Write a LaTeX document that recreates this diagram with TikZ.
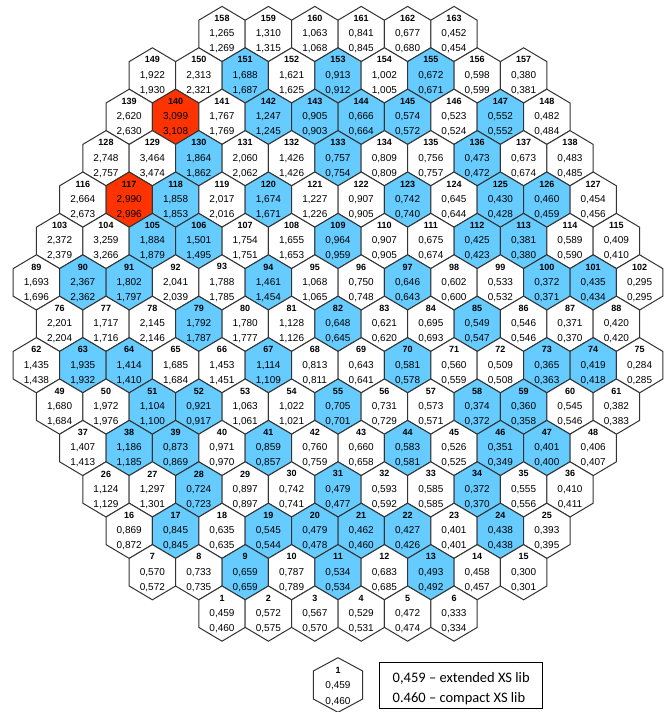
\documentclass[tikz,border=0pt]{standalone}
\usepackage{fontspec}
\setmainfont{Liberation Sans}
\newfontfamily\legfont{Carlito}
\usepackage{xcolor}
\usetikzlibrary{backgrounds}

\definecolor{hb}{RGB}{102,204,255}
\definecolor{hr}{RGB}{255,51,0}
\colorlet{hw}{white}

\tikzset{
  hexedge/.style={draw=black!80, line width=1pt, line join=miter},
  hexid/.style={font=\fontsize{9}{9}\selectfont\bfseries, inner sep=0pt},
  hexval/.style={font=\fontsize{10}{10}\selectfont, inner sep=0pt},
  legtxt/.style={font=\legfont\fontsize{14.5}{16}\selectfont, inner sep=0pt, anchor=west},
}

\begin{document}
\begin{tikzpicture}[x=1pt, y=-1pt]
\useasboundingbox (0,0) rectangle (671,712);
\def\hx{23.2}
\def\hy{13.8}
\def\htop{27.6}
\def\dx{46.4}
\def\dy{41.4}
% one fuel cell: k = column, r = row, id, extended value, compact value, fill
\def\cell#1#2#3#4#5#6{%
  \coordinate (p#3) at ({36.4+\dx*(#1)},{323.8-\dy*(#2)});
  \begin{pgfonlayer}{background}
    \filldraw[hexedge, fill=#6] (p#3) +(0,-\htop) -- +(\hx,-\hy) -- +(\hx,\hy)
      -- +(0,\htop) -- +(-\hx,\hy) -- +(-\hx,-\hy) -- cycle;
  \end{pgfonlayer}
  \node[hexid] (n#3) at ([yshift=15.5pt]p#3) {#3};
  \node[hexval] (e#3) at (p#3) {#4};
  \node[hexval] (c#3) at ([yshift=-15pt]p#3) {#5};
}
\foreach \id/\va/\vb/\f [count=\i from 0] in {158/{1,265}/{1,269}/hw, 159/{1,310}/{1,315}/hw,
  160/{1,063}/{1,068}/hw, 161/{0,841}/{0,845}/hw, 162/{0,677}/{0,680}/hw, 163/{0,452}/{0,454}/hw}
  \cell{4+\i}{7}{\id}{\va}{\vb}{\f};
\foreach \id/\va/\vb/\f [count=\i from 0] in {149/{1,922}/{1,930}/hw, 150/{2,313}/{2,321}/hw,
  151/{1,688}/{1,687}/hb, 152/{1,621}/{1,625}/hw, 153/{0,913}/{0,912}/hb, 154/{1,002}/{1,005}/hw,
  155/{0,672}/{0,671}/hb, 156/{0,598}/{0,599}/hw, 157/{0,380}/{0,381}/hw}
  \cell{2.5+\i}{6}{\id}{\va}{\vb}{\f};
\foreach \id/\va/\vb/\f [count=\i from 0] in {139/{2,620}/{2,630}/hw, 140/{3,099}/{3,108}/hr,
  141/{1,767}/{1,769}/hw, 142/{1,247}/{1,245}/hb, 143/{0,905}/{0,903}/hb, 144/{0,666}/{0,664}/hb,
  145/{0,574}/{0,572}/hb, 146/{0,523}/{0,524}/hw, 147/{0,552}/{0,552}/hb, 148/{0,482}/{0,484}/hw}
  \cell{2+\i}{5}{\id}{\va}{\vb}{\f};
\foreach \id/\va/\vb/\f [count=\i from 0] in {128/{2,748}/{2,757}/hw, 129/{3,464}/{3,474}/hw,
  130/{1,864}/{1,862}/hb, 131/{2,060}/{2,062}/hw, 132/{1,426}/{1,426}/hw, 133/{0,757}/{0,754}/hb,
  134/{0,809}/{0,809}/hw, 135/{0,756}/{0,757}/hw, 136/{0,473}/{0,472}/hb, 137/{0,673}/{0,674}/hw,
  138/{0,483}/{0,485}/hw}
  \cell{1.5+\i}{4}{\id}{\va}{\vb}{\f};
\foreach \id/\va/\vb/\f [count=\i from 0] in {116/{2,664}/{2,673}/hw, 117/{2,990}/{2,996}/hr,
  118/{1,858}/{1,853}/hb, 119/{2,017}/{2,016}/hw, 120/{1,674}/{1,671}/hb, 121/{1,227}/{1,226}/hw,
  122/{0,907}/{0,905}/hw, 123/{0,742}/{0,740}/hb, 124/{0,645}/{0,644}/hw, 125/{0,430}/{0,428}/hb,
  126/{0,460}/{0,459}/hb, 127/{0,454}/{0,456}/hw}
  \cell{1+\i}{3}{\id}{\va}{\vb}{\f};
\foreach \id/\va/\vb/\f [count=\i from 0] in {103/{2,372}/{2,379}/hw, 104/{3,259}/{3,266}/hw,
  105/{1,884}/{1,879}/hb, 106/{1,501}/{1,495}/hb, 107/{1,754}/{1,751}/hw, 108/{1,655}/{1,653}/hw,
  109/{0,964}/{0,959}/hb, 110/{0,907}/{0,905}/hw, 111/{0,675}/{0,674}/hw, 112/{0,425}/{0,423}/hb,
  113/{0,381}/{0,380}/hb, 114/{0,589}/{0,590}/hw, 115/{0,409}/{0,410}/hw}
  \cell{0.5+\i}{2}{\id}{\va}{\vb}{\f};
\foreach \id/\va/\vb/\f [count=\i from 0] in {89/{1,693}/{1,696}/hw, 90/{2,367}/{2,362}/hb,
  91/{1,802}/{1,797}/hb, 92/{2,041}/{2,039}/hw, 93/{1,788}/{1,785}/hw, 94/{1,461}/{1,454}/hb,
  95/{1,068}/{1,065}/hw, 96/{0,750}/{0,748}/hw, 97/{0,646}/{0,643}/hb, 98/{0,602}/{0,600}/hw,
  99/{0,533}/{0,532}/hw, 100/{0,372}/{0,371}/hb, 101/{0,435}/{0,434}/hb, 102/{0,295}/{0,295}/hw}
  \cell{\i}{1}{\id}{\va}{\vb}{\f};
\foreach \id/\va/\vb/\f [count=\i from 0] in {76/{2,201}/{2,204}/hw, 77/{1,717}/{1,716}/hw,
  78/{2,145}/{2,146}/hw, 79/{1,792}/{1,787}/hb, 80/{1,780}/{1,777}/hw, 81/{1,128}/{1,126}/hw,
  82/{0,648}/{0,645}/hb, 83/{0,621}/{0,620}/hw, 84/{0,695}/{0,693}/hw, 85/{0,549}/{0,547}/hb,
  86/{0,546}/{0,546}/hw, 87/{0,371}/{0,370}/hw, 88/{0,420}/{0,420}/hw}
  \cell{0.5+\i}{0}{\id}{\va}{\vb}{\f};
\foreach \id/\va/\vb/\f [count=\i from 0] in {62/{1,435}/{1,438}/hw, 63/{1,935}/{1,932}/hb,
  64/{1,414}/{1,410}/hb, 65/{1,685}/{1,684}/hw, 66/{1,453}/{1,451}/hw, 67/{1,114}/{1,109}/hb,
  68/{0,813}/{0,811}/hw, 69/{0,643}/{0,641}/hw, 70/{0,581}/{0,578}/hb, 71/{0,560}/{0,559}/hw,
  72/{0,509}/{0,508}/hw, 73/{0,365}/{0,363}/hb, 74/{0,419}/{0,418}/hb, 75/{0,284}/{0,285}/hw}
  \cell{\i}{-1}{\id}{\va}{\vb}{\f};
\foreach \id/\va/\vb/\f [count=\i from 0] in {49/{1,680}/{1,684}/hw, 50/{1,972}/{1,976}/hw,
  51/{1,104}/{1,100}/hb, 52/{0,921}/{0,917}/hb, 53/{1,063}/{1,061}/hw, 54/{1,022}/{1,021}/hw,
  55/{0,705}/{0,701}/hb, 56/{0,731}/{0,729}/hw, 57/{0,573}/{0,571}/hw, 58/{0,374}/{0,372}/hb,
  59/{0,360}/{0,358}/hb, 60/{0,545}/{0,546}/hw, 61/{0,382}/{0,383}/hw}
  \cell{0.5+\i}{-2}{\id}{\va}{\vb}{\f};
\foreach \id/\va/\vb/\f [count=\i from 0] in {37/{1,407}/{1,413}/hw, 38/{1,186}/{1,185}/hb,
  39/{0,873}/{0,869}/hb, 40/{0,971}/{0,970}/hw, 41/{0,859}/{0,857}/hb, 42/{0,760}/{0,759}/hw,
  43/{0,660}/{0,658}/hw, 44/{0,583}/{0,581}/hb, 45/{0,526}/{0,525}/hw, 46/{0,351}/{0,349}/hb,
  47/{0,401}/{0,400}/hb, 48/{0,406}/{0,407}/hw}
  \cell{1+\i}{-3}{\id}{\va}{\vb}{\f};
\foreach \id/\va/\vb/\f [count=\i from 0] in {26/{1,124}/{1,129}/hw, 27/{1,297}/{1,301}/hw,
  28/{0,724}/{0,723}/hb, 29/{0,897}/{0,897}/hw, 30/{0,742}/{0,741}/hw, 31/{0,479}/{0,477}/hb,
  32/{0,593}/{0,592}/hw, 33/{0,585}/{0,585}/hw, 34/{0,372}/{0,370}/hb, 35/{0,555}/{0,556}/hw,
  36/{0,410}/{0,411}/hw}
  \cell{1.5+\i}{-4}{\id}{\va}{\vb}{\f};
\foreach \id/\va/\vb/\f [count=\i from 0] in {16/{0,869}/{0,872}/hw, 17/{0,845}/{0,845}/hb,
  18/{0,635}/{0,635}/hw, 19/{0,545}/{0,544}/hb, 20/{0,479}/{0,478}/hb, 21/{0,462}/{0,460}/hb,
  22/{0,427}/{0,426}/hb, 23/{0,401}/{0,401}/hw, 24/{0,438}/{0,438}/hb, 25/{0,393}/{0,395}/hw}
  \cell{2+\i}{-5}{\id}{\va}{\vb}{\f};
\foreach \id/\va/\vb/\f [count=\i from 0] in {7/{0,570}/{0,572}/hw, 8/{0,733}/{0,735}/hw,
  9/{0,659}/{0,659}/hb, 10/{0,787}/{0,789}/hw, 11/{0,534}/{0,534}/hb, 12/{0,683}/{0,685}/hw,
  13/{0,493}/{0,492}/hb, 14/{0,458}/{0,457}/hw, 15/{0,300}/{0,301}/hw}
  \cell{2.5+\i}{-6}{\id}{\va}{\vb}{\f};
\foreach \id/\va/\vb/\f [count=\i from 0] in {1/{0,459}/{0,460}/hw, 2/{0,572}/{0,575}/hw,
  3/{0,567}/{0,570}/hw, 4/{0,529}/{0,531}/hw, 5/{0,472}/{0,474}/hw, 6/{0,333}/{0,334}/hw}
  \cell{4+\i}{-7}{\id}{\va}{\vb}{\f};
% key
\coordinate (key) at (338,685);
\draw[hexedge] (key) +(0,-27.3) -- +(24.7,-14) -- +(24.7,14) -- +(0,27.3)
  -- +(-24.7,14) -- +(-24.7,-14) -- cycle;
\node[hexid] (keyid) at ([yshift=14.5pt]key) {1};
\node[hexval] (keyext) at ([yshift=-1pt]key) {0,459};
\node[hexval] (keycmp) at ([yshift=-16.5pt]key) {0,460};
\draw[line width=0.9pt] (379.3,662.7) rectangle (542.7,708.7);
\node[legtxt] (legext) at (392.5,678) {0,459 – extended XS lib};
\node[legtxt] (legcmp) at (392.5,698.3) {0.460 – compact XS lib};
\end{tikzpicture}
\end{document}
